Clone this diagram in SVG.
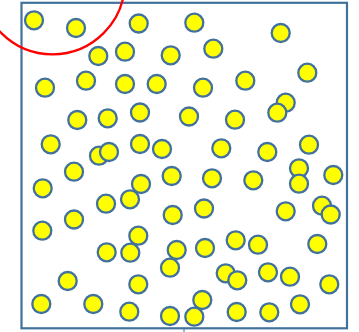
<svg xmlns="http://www.w3.org/2000/svg" width="359" height="332" viewBox="0 0 359 332">
<style>
.b{fill:none;stroke:#41719C;stroke-width:2.2}
.c{fill:#FFFF00;stroke:#41719C;stroke-width:2.3}
.r{fill:none;stroke:#FF0000;stroke-width:2.3}
</style>
<rect x="0" y="0" width="359" height="332" fill="#FFFFFF"/>
<g id="frame"><rect class="b" x="21.5" y="2.8" width="325.5" height="325.5"/><line x1="184" y1="328" x2="184" y2="332" stroke="#41719C" stroke-width="1"/></g>
<g id="connectors"></g>
<g id="n1"><circle class="c" cx="34" cy="20.3" r="9"/></g>
<g id="n2"><circle class="c" cx="194.3" cy="22.7" r="9"/></g>
<g id="n3"><circle class="c" cx="138.7" cy="23.5" r="9"/></g>
<g id="n4"><circle class="c" cx="76" cy="28" r="9"/></g>
<g id="n5"><circle class="c" cx="280.7" cy="33" r="9"/></g>
<g id="n6"><circle class="c" cx="213.3" cy="48.7" r="9"/></g>
<g id="n7"><circle class="c" cx="125" cy="51.7" r="9"/></g>
<g id="n8"><circle class="c" cx="170.7" cy="55.3" r="9"/></g>
<g id="n9"><circle class="c" cx="98.3" cy="56" r="9"/></g>
<g id="n10"><circle class="c" cx="307.3" cy="72.7" r="9"/></g>
<g id="n11"><circle class="c" cx="86" cy="80.7" r="9"/></g>
<g id="n12"><circle class="c" cx="245.3" cy="80.7" r="9"/></g>
<g id="n13"><circle class="c" cx="125" cy="84" r="9"/></g>
<g id="n14"><circle class="c" cx="156.7" cy="84" r="9"/></g>
<g id="n15"><circle class="c" cx="45" cy="87.7" r="9"/></g>
<g id="n16"><circle class="c" cx="203" cy="87.7" r="9"/></g>
<g id="n17"><circle class="c" cx="285.7" cy="102.7" r="9"/></g>
<g id="n18"><circle class="c" cx="140" cy="112.5" r="9"/></g>
<g id="n19"><circle class="c" cx="277.3" cy="112.7" r="9"/></g>
<g id="n20"><circle class="c" cx="189" cy="116.5" r="9"/></g>
<g id="n21"><circle class="c" cx="107.7" cy="118.3" r="9"/></g>
<g id="n22"><circle class="c" cx="235" cy="119.7" r="9"/></g>
<g id="n23"><circle class="c" cx="77.3" cy="120" r="9"/></g>
<g id="n24"><circle class="c" cx="140" cy="144" r="9"/></g>
<g id="n25"><circle class="c" cx="50.7" cy="144.3" r="9"/></g>
<g id="n26"><circle class="c" cx="309" cy="144.7" r="9"/></g>
<g id="n27"><circle class="c" cx="221.3" cy="148.3" r="9"/></g>
<g id="n28"><circle class="c" cx="162" cy="149" r="9"/></g>
<g id="n29"><circle class="c" cx="99" cy="155.7" r="9"/></g>
<g id="n30"><circle class="c" cx="109" cy="152" r="9"/></g>
<g id="n31"><circle class="c" cx="267.3" cy="152" r="9"/></g>
<g id="n32"><circle class="c" cx="299" cy="168.3" r="9"/></g>
<g id="n33"><circle class="c" cx="74" cy="171.7" r="9"/></g>
<g id="n34"><circle class="c" cx="333.3" cy="175" r="9"/></g>
<g id="n35"><circle class="c" cx="171.7" cy="176" r="9"/></g>
<g id="n36"><circle class="c" cx="212" cy="178.3" r="9"/></g>
<g id="n37"><circle class="c" cx="253.3" cy="180.3" r="9"/></g>
<g id="n38"><circle class="c" cx="299" cy="183.7" r="9"/></g>
<g id="n39"><circle class="c" cx="141" cy="184" r="9"/></g>
<g id="n40"><circle class="c" cx="42.7" cy="188.3" r="9"/></g>
<g id="n41"><circle class="c" cx="130" cy="199.3" r="9"/></g>
<g id="n42"><circle class="c" cx="106" cy="203.7" r="9"/></g>
<g id="n43"><circle class="c" cx="322" cy="205.7" r="9"/></g>
<g id="n44"><circle class="c" cx="204" cy="208.5" r="9"/></g>
<g id="n45"><circle class="c" cx="285.7" cy="211.3" r="9"/></g>
<g id="n46"><circle class="c" cx="330.7" cy="214.5" r="9"/></g>
<g id="n47"><circle class="c" cx="172.7" cy="215" r="9"/></g>
<g id="n48"><circle class="c" cx="74" cy="219.5" r="9"/></g>
<g id="n49"><circle class="c" cx="42.3" cy="230.7" r="9"/></g>
<g id="n50"><circle class="c" cx="138.3" cy="235.7" r="9"/></g>
<g id="n51"><circle class="c" cx="235.7" cy="240.3" r="9"/></g>
<g id="n52"><circle class="c" cx="317.3" cy="244" r="9"/></g>
<g id="n53"><circle class="c" cx="258" cy="244.7" r="9"/></g>
<g id="n54"><circle class="c" cx="205" cy="248" r="9"/></g>
<g id="n55"><circle class="c" cx="176.7" cy="250" r="9"/></g>
<g id="n56"><circle class="c" cx="106.7" cy="252.3" r="9"/></g>
<g id="n57"><circle class="c" cx="130.3" cy="252.7" r="9"/></g>
<g id="n58"><circle class="c" cx="170" cy="267.7" r="9"/></g>
<g id="n59"><circle class="c" cx="268" cy="272.3" r="9"/></g>
<g id="n60"><circle class="c" cx="225.7" cy="273.3" r="9"/></g>
<g id="n61"><circle class="c" cx="290" cy="276.7" r="9"/></g>
<g id="n62"><circle class="c" cx="237.3" cy="280.3" r="9"/></g>
<g id="n63"><circle class="c" cx="67.7" cy="281" r="9"/></g>
<g id="n64"><circle class="c" cx="138.3" cy="284.3" r="9"/></g>
<g id="n65"><circle class="c" cx="329.3" cy="284.3" r="9"/></g>
<g id="n66"><circle class="c" cx="202.3" cy="300" r="9"/></g>
<g id="n67"><circle class="c" cx="41.3" cy="304" r="9"/></g>
<g id="n68"><circle class="c" cx="93.3" cy="304" r="9"/></g>
<g id="n69"><circle class="c" cx="300" cy="304.3" r="9"/></g>
<g id="n70"><circle class="c" cx="129.3" cy="311.7" r="9"/></g>
<g id="n71"><circle class="c" cx="236.7" cy="312" r="9"/></g>
<g id="n72"><circle class="c" cx="269.3" cy="312.3" r="9"/></g>
<g id="n73"><circle class="c" cx="170" cy="316" r="9"/></g>
<g id="n74"><circle class="c" cx="194.3" cy="316.7" r="9"/></g>
<g id="arc"><circle class="r" cx="52.5" cy="-18" r="72.3"/></g>
</svg>
